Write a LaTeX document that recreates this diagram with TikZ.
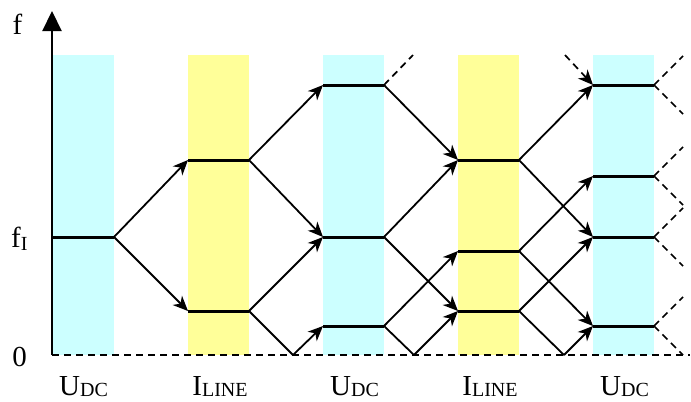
\documentclass[tikz,border=0pt]{standalone}
\usepackage{fontspec}
\setmainfont{Liberation Serif}
\usetikzlibrary{arrows.meta}
\definecolor{dcblue}{RGB}{204,255,255}
\definecolor{lineyellow}{RGB}{255,255,153}
\newcommand\sublbl[3][-1bp]{#2\raisebox{#1}{\fontsize{20bp}{22bp}\selectfont #3}}
\tikzset{
  bar/.style={fill=#1,draw=none,minimum width=61bp,minimum height=300bp,inner sep=0pt,outer sep=0pt},
  bar/.default=dcblue,
  lvl/.style={minimum width=61bp,minimum height=0pt,inner sep=0pt,outer sep=0pt},
  level/.style={line width=3bp},
  tip/.style={-{Stealth[length=15bp,width=13bp,inset=4.5bp]}},
  flow/.style={tip,line width=1.8bp},
  bounce/.style={line width=1.8bp},
  ghost/.style={line width=1.7bp,dash pattern=on 7bp off 5bp},
  axis/.style={-{Triangle[length=20bp,width=19bp]},line width=2.2bp},
  tag/.style={font=\fontsize{29bp}{31bp}\selectfont,inner sep=0pt},
}
\begin{document}
\begin{tikzpicture}[x=1bp,y=-1bp]
  \useasboundingbox (0,0) rectangle (691,401);
  % bands
  \node[bar=dcblue]     (u1) at (83.5,205) {};
  \node[bar=lineyellow] (i1) at (218.5,205) {};
  \node[bar=dcblue]     (u2) at (353.5,205) {};
  \node[bar=lineyellow] (i2) at (488.5,205) {};
  \node[bar=dcblue]     (u3) at (623.5,205) {};
  % zero line
  \coordinate (o) at (52,355);
  \coordinate (zend) at (690,355);
  \draw[ghost] (o) -- (zend);
  % levels
  \node[lvl] (b1m) at (83.5,237) {};
  \node[lvl] (b2t) at (218.5,160) {};
  \node[lvl] (b2b) at (218.5,311) {};
  \node[lvl] (b3t) at (353.5,85) {};
  \node[lvl] (b3m) at (353.5,237) {};
  \node[lvl] (b3b) at (353.5,326) {};
  \node[lvl] (b4t) at (488.5,160) {};
  \node[lvl] (b4m) at (488.5,251) {};
  \node[lvl] (b4b) at (488.5,311) {};
  \node[lvl] (b5t) at (623.5,85) {};
  \node[lvl] (b5u) at (623.5,176) {};
  \node[lvl] (b5m) at (623.5,237) {};
  \node[lvl] (b5b) at (623.5,326) {};
  \foreach \n in {b1m,b2t,b2b,b3t,b3m,b3b,b4t,b4m,b4b,b5t,b5u,b5m,b5b}
    \draw[level] (\n.west) -- (\n.east);
  % reflections at zero
  \coordinate (r2) at (293,355);
  \coordinate (r3) at (414,355);
  \coordinate (r4) at (564,355);
  % mixing
  \draw[flow] (b1m.east) -- (b2t.west);
  \draw[flow] (b1m.east) -- (b2b.west);
  \draw[flow] (b2t.east) -- (b3t.west);
  \draw[flow] (b2t.east) -- (b3m.west);
  \draw[flow] (b2b.east) -- (b3m.west);
  \draw[bounce] (b2b.east) -- (r2);
  \draw[flow] (r2) -- (b3b.west);
  \draw[flow] (b3t.east) -- (b4t.west);
  \draw[flow] (b3m.east) -- (b4t.west);
  \draw[flow] (b3m.east) -- (b4b.west);
  \draw[flow] (b3b.east) -- (b4m.west);
  \draw[bounce] (b3b.east) -- (r3);
  \draw[flow] (r3) -- (b4b.west);
  \draw[flow] (b4t.east) -- (b5t.west);
  \draw[flow] (b4t.east) -- (b5m.west);
  \draw[flow] (b4m.east) -- (b5u.west);
  \draw[flow] (b4m.east) -- (b5b.west);
  \draw[flow] (b4b.east) -- (b5m.west);
  \draw[bounce] (b4b.east) -- (r4);
  \draw[flow] (r4) -- (b5b.west);
  % products above the range
  \coordinate (x3) at (413,55);
  \coordinate (x4) at (565,55);
  \draw[ghost] (b3t.east) -- (x3);
  \draw[ghost,tip] (x4) -- (b5t.west);
  \foreach \n in {b5t,b5u,b5m,b5b} {
    \path (\n.east) ++(29,-29) coordinate (\n-up) (\n.east) ++(29,29) coordinate (\n-dn);
    \draw[ghost] (\n.east) -- (\n-up);
    \draw[ghost] (\n.east) -- (\n-dn);
  }
  % frequency axis
  \coordinate (ftop) at (52,11);
  \draw[axis] (o) -- (ftop);
  \node[tag,anchor=base] (flab) at (17.5,34) {f};
  \node[tag,anchor=base west] (filab) at (11,247) {\sublbl[-3bp]{f}{I}};
  \node[tag,anchor=base] (zlab) at (19.5,366) {0};
  % band names
  \node[tag,anchor=base] (n1) at (83.5,395) {\sublbl{U}{DC}};
  \node[tag,anchor=base] (n2) at (220,395) {\sublbl{I}{LINE}};
  \node[tag,anchor=base] (n3) at (354.5,395) {\sublbl{U}{DC}};
  \node[tag,anchor=base] (n4) at (490,395) {\sublbl{I}{LINE}};
  \node[tag,anchor=base] (n5) at (624.5,395) {\sublbl{U}{DC}};
\end{tikzpicture}
\end{document}
